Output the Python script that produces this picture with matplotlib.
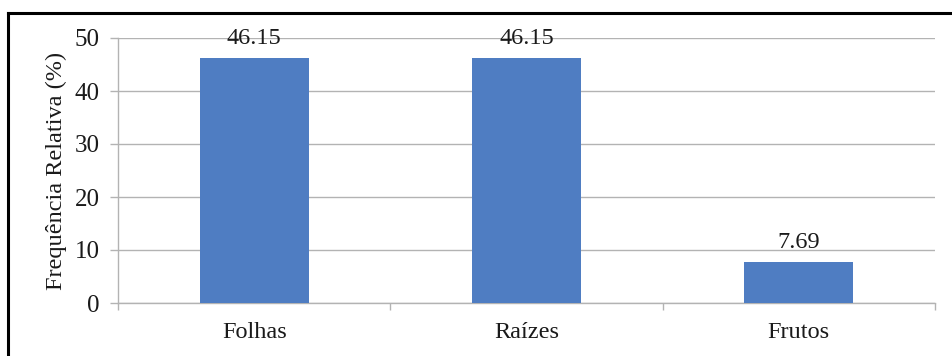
import matplotlib
matplotlib.use("Agg")
import matplotlib.pyplot as plt
from matplotlib.lines import Line2D

categories = ["Folhas", "Raízes", "Frutos"]
values = [46.15, 46.15, 7.69]
value_labels = ["46.15", "46.15", "7.69"]
y_ticks = [0, 10, 20, 30, 40, 50]

plt.rcParams["font.family"] = ["Liberation Serif", "DejaVu Serif"]

W, H = 953, 356
fig = plt.figure(figsize=(W / 100, H / 100), dpi=100)
ax = fig.add_axes([118 / W, 1 - 303 / H, (935 - 118) / W, (303 - 38) / H])

bar_color = "#4f7dc2"
grid_color = "#b3b3b3"
text_color = "#1a1a1a"
x = list(range(len(categories)))
ax.bar(x, values, width=0.4, color=bar_color, zorder=3)

for xi, v, lab in zip(x, values, value_labels):
    ax.annotate(lab, (xi, v), xytext=(0, 7), textcoords="offset points",
                ha="center", va="bottom", fontsize=17.5, color=text_color, zorder=4)

ax.set_xlim(-0.5, len(categories) - 0.5)
ax.set_ylim(0, 50)
ax.set_yticks(y_ticks)
ax.set_yticklabels([str(t) for t in y_ticks], fontsize=18, color=text_color)
ax.set_xticks(x)
ax.set_xticklabels(categories, fontsize=17.5, color=text_color)
ax.set_xticks([i + 0.5 for i in range(-1, len(categories))], minor=True)

ax.tick_params(axis="x", which="major", length=0, pad=14)
ax.tick_params(axis="x", which="minor", length=5, color=grid_color, width=1)
ax.tick_params(axis="y", length=6, color=grid_color, width=1, pad=7)

ax.yaxis.grid(True, color=grid_color, linewidth=1, zorder=0)
for side in ["top", "right"]:
    ax.spines[side].set_visible(False)
for side in ["left", "bottom"]:
    ax.spines[side].set_color(grid_color)
    ax.spines[side].set_linewidth(1)

ax.set_ylabel("Frequência Relativa (%)", fontsize=17.5, color=text_color, labelpad=6)

# outer frame around the chart (top and left edges)
fig.add_artist(Line2D([8 / W, 1.0], [1 - 13 / H, 1 - 13 / H], color="black", linewidth=2.2,
                      transform=fig.transFigure))
fig.add_artist(Line2D([8 / W, 8 / W], [0, 1 - 13 / H], color="black", linewidth=2.2,
                      transform=fig.transFigure))

fig.savefig("out.png", dpi=100, facecolor="white")
